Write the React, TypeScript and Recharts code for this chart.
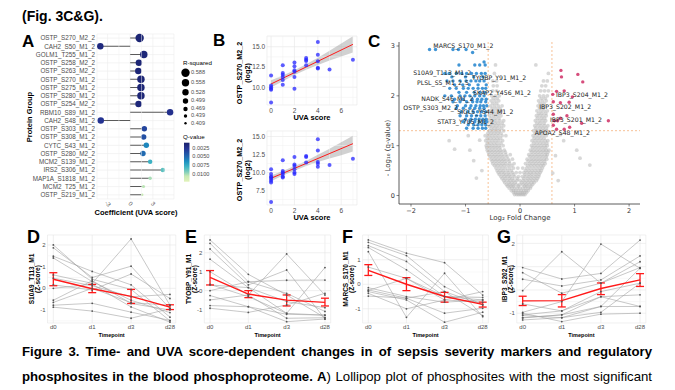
import React from 'react';
import {
  ComposedChart, Bar, XAxis, YAxis, CartesianGrid, Scatter, ScatterChart,
  Line, LineChart, Area, ReferenceLine, ErrorBar,
} from 'recharts';

const SANS = '"Liberation Sans", Arial, sans-serif';
const DJ = '"DejaVu Sans", sans-serif';

// ---------------- Panel A (lollipop) ----------------
const lolliNames = ['OSTP_S270_M2_2','CAH2_S50_M1_2','GOLM1_T255_M1_2','OSTP_S258_M2_2','OSTP_S263_M2_2','OSTP_S270_M1_2','OSTP_S275_M1_2','OSTP_S280_M1_2','OSTP_S254_M2_2','RBM10_S89_M1_2','CAH2_S48_M1_2','OSTP_S303_M1_2','OSTP_S308_M1_2','CYTC_S43_M1_2','OSTP_S280_M2_2','MCM2_S139_M1_2','IRS2_S306_M1_2','MAP1A_S1818_M1_2','MCM2_T25_M1_2','OSTP_S219_M1_2'];
const lolliCoef = [1.25,-3.96,1.8,1.15,1.07,1.42,1.42,1.42,1.1,5.28,-3.9,1.87,1.78,2.13,1.69,2.64,4.32,2.64,1.76,1.59];
const lolliRsq = [0.588,0.53,0.56,0.53,0.53,0.56,0.56,0.56,0.53,0.53,0.53,0.5,0.5,0.5,0.5,0.47,0.47,0.44,0.43,0.41];
const lolliQ = [0.0012,0.0016,0.0014,0.0013,0.0013,0.0013,0.0013,0.0013,0.0014,0.0022,0.0024,0.0032,0.0036,0.0057,0.0047,0.0073,0.0081,0.0095,0.0098,0.0100];
const rsqLegend = [0.588,0.558,0.528,0.499,0.469,0.439,0.409];
const qLegend = ['0.0025','0.0050','0.0075','0.0100'];

const qStops: [number, string][] = [[0.0009,'#1a216c'],[0.0025,'#253494'],[0.0040,'#2259a8'],[0.0050,'#2171b5'],[0.0060,'#1d91c0'],[0.0075,'#41b6c4'],[0.0088,'#7fcdbb'],[0.0100,'#c7e9b4'],[0.0115,'#e2f3ba']];
const hex = (h: string) => [1,3,5].map(i => parseInt(h.slice(i,i+2),16));
const qColor = (q: number) => {
  if (q <= qStops[0][0]) return qStops[0][1];
  for (let i = 1; i < qStops.length; i++) {
    if (q <= qStops[i][0]) {
      const [q0,c0] = qStops[i-1]; const [q1,c1] = qStops[i];
      const t = (q-q0)/(q1-q0); const a = hex(c0), b = hex(c1);
      return `rgb(${a.map((v,k)=>Math.round(v+(b[k]-v)*t)).join(',')})`;
    }
  }
  return qStops[qStops.length-1][1];
};
const rsqRadius = (r: number) => 1.2 + (r - 0.409) / 0.179 * 3.0;

const lolliData = lolliNames.map((n,i)=>({ name:n, coef:lolliCoef[i], rsq:lolliRsq[i], q:lolliQ[i] }));

const LolliShape = (p: any) => {
  const { x, y, width, height, payload } = p;
  const l = Math.min(x, x + width), r = Math.max(x, x + width);
  const cy = y + height / 2;
  const base = payload.coef >= 0 ? l : r;
  const tip = payload.coef >= 0 ? r : l;
  return (
    <g>
      <line x1={base} y1={cy} x2={tip} y2={cy} stroke="#5a5a5a" strokeWidth={1} />
      <circle cx={tip} cy={cy} r={rsqRadius(payload.rsq)} fill={qColor(payload.q)} />
    </g>
  );
};
const RotTick = (p: any) => (
  <text x={p.x} y={p.y + 4} transform={`rotate(45 ${p.x} ${p.y + 4})`} textAnchor="middle" dominantBaseline="middle" fontSize={6} fill="#4d4d4d" fontFamily={SANS}>{p.payload.value}</text>
);

// ---------------- Panel B (regressions) ----------------
const b1X = [0,0,0,0,0,0,1,1,1,1,1,1,2,2,2,2,2,2,3,3,3,3,4,4,4,4,4,5,7];
const b1Y = [11.46,10.2,10.0,9.8,9.67,8.1,12.7,11.75,11.55,11.25,10.9,10.3,13.05,12.6,12.1,11.9,11.25,9.8,13.6,13.4,13.25,12.7,15.6,14.0,13.2,12.4,12.3,12.2,13.4];
const b1FitX = [0,7];
const b1Fit = [10.4,15.3];
const bBandX = [0,1,2,3,4,5,6,7];
const b1Lo = [9.95,10.75,11.5,12.15,12.75,13.3,13.8,14.3];
const b1Hi = [10.85,11.45,12.1,12.85,13.65,14.5,15.4,16.3];

const b2X = [0,0,0,0,0,0,0,0,1,1,1,1,1,1,2,2,2,2,2,2,3,3,3,4,4,4,4,4,5,7];
const b2Y = [10.46,9.8,9.45,9.3,9.1,8.87,8.6,5.9,11.7,10.2,10.0,9.8,9.45,9.3,12.15,11.1,10.9,10.45,10.0,9.8,12.3,12.15,11.4,14.6,13.05,11.45,11.2,10.8,11.05,11.9];
const b2FitX = [0,7];
const b2Fit = [9.2,14.0];
const b2Lo = [8.8,9.6,10.25,10.9,11.45,11.95,12.4,12.9];
const b2Hi = [9.6,10.2,10.9,11.6,12.45,13.3,14.2,15.1];

// ---------------- Panel C (volcano) ----------------
const volGreyRows: [number, number[]][] = [
  [0.02, [-0.1,-0.06,-0.03,0,0.03,0.06,0.09]],
  [0.06, [-0.12,-0.08,-0.04,0.01,0.04,0.08,0.12]],
  [0.1, [-0.16,-0.12,-0.08,-0.03,0.02,0.07,0.11,0.15]],
  [0.15, [-0.2,-0.15,-0.1,-0.05,0,0.05,0.1,0.15,0.19]],
  [0.19, [-0.23,-0.17,-0.12,-0.03,0.08,0.13,0.2]],
  [0.22, [-0.25,-0.19,-0.13,-0.07,-0.01,0.05,0.11,0.17,0.23]],
  [0.26, [-0.28,-0.21,-0.15,-0.09,0.03,0.09,0.15,0.21,0.26]],
  [0.3, [-0.3,-0.24,-0.18,-0.12,-0.06,0,0.06,0.12,0.18,0.24,0.3]],
  [0.34, [-0.33,-0.27,-0.2,-0.14,-0.05,0.07,0.14,0.2,0.26,0.32]],
  [0.38, [-0.35,-0.29,-0.23,-0.17,-0.1,-0.03,0.04,0.1,0.16,0.22,0.28,0.34]],
  [0.42, [-0.38,-0.31,-0.25,-0.19,-0.12,0.09,0.16,0.22,0.29,0.35]],
  [0.46, [-0.4,-0.34,-0.28,-0.21,-0.14,-0.07,0,0.07,0.13,0.19,0.25,0.31,0.37]],
  [0.5, [-0.42,-0.36,-0.3,-0.23,-0.16,0.1,0.16,0.22,0.28,0.34,0.39]],
  [0.55, [-0.44,-0.38,-0.32,-0.26,-0.19,-0.12,-0.04,0.05,0.12,0.18,0.24,0.3,0.36,0.41]],
  [0.6, [-0.47,-0.41,-0.35,-0.29,-0.22,-0.15,0.14,0.2,0.26,0.32,0.38,0.43]],
  [0.64, [-0.5,-0.44,-0.38,-0.32,-0.26,-0.19,-0.11,0.1,0.17,0.23,0.29,0.35,0.41,0.46]],
  [0.69, [-0.51,-0.45,-0.39,-0.33,-0.27,-0.2,0.15,0.21,0.27,0.33,0.39,0.45]],
  [0.73, [-0.53,-0.47,-0.41,-0.35,-0.29,-0.22,-0.14,0.13,0.2,0.26,0.32,0.38,0.44,0.49]],
  [0.78, [-0.55,-0.49,-0.43,-0.37,-0.31,-0.24,0.18,0.24,0.3,0.36,0.42,0.48]],
  [0.82, [-0.57,-0.51,-0.45,-0.39,-0.33,-0.26,-0.18,0.16,0.22,0.28,0.34,0.4,0.46,0.5]],
  [0.87, [-0.58,-0.52,-0.46,-0.4,-0.34,-0.27,0.21,0.27,0.33,0.39,0.45,0.51]],
  [0.91, [-0.6,-0.54,-0.48,-0.42,-0.36,-0.29,0.19,0.25,0.31,0.37,0.43,0.48,0.53]],
  [0.96, [-0.61,-0.55,-0.49,-0.43,-0.37,0.23,0.29,0.35,0.41,0.47]],
  [1.0, [-0.62,-0.56,-0.5,-0.44,-0.38,-0.31,0.21,0.27,0.33,0.39,0.45,0.5]],
  [1.05, [-0.6,-0.54,-0.48,-0.42,-0.35,0.25,0.31,0.37,0.43,0.49]],
  [1.1, [-0.63,-0.57,-0.51,-0.45,-0.39,-0.32,0.22,0.28,0.34,0.4,0.46,0.51]],
  [1.15, [-0.6,-0.54,-0.48,-0.42,-0.36,0.26,0.32,0.38,0.44]],
  [1.2, [-0.64,-0.58,-0.52,-0.46,-0.4,-0.33,-0.26,0.24,0.3,0.36,0.42,0.48]],
  [1.25, [-0.59,-0.53,-0.47,-0.41,-0.35,0.28,0.34,0.4,0.46]],
  [1.3, [-0.56,-0.5,-0.44,-0.38,-0.3,0.25,0.31,0.37,0.43,0.49]],
  [1.35, [-0.53,-0.47,-0.41,-0.34,0.29,0.36,0.42,0.48]],
  [1.4, [-0.55,-0.49,-0.43,-0.37,-0.3,0.27,0.33,0.39,0.45,0.51]],
  [1.45, [-0.52,-0.46,-0.4,-0.33,0.31,0.37,0.44]],
  [1.5, [-0.56,-0.5,-0.44,-0.37,-0.3,0.28,0.35,0.41,0.47]],
  [1.55, [-0.53,-0.46,-0.39,0.32,0.39,0.45]],
  [1.6, [-0.56,-0.49,-0.42,-0.35,0.3,0.36,0.42,0.48]],
  [1.65, [-0.52,-0.45,-0.38,0.34,0.4,0.47]],
  [1.7, [-0.55,-0.48,-0.41,-0.34,0.31,0.38,0.44,0.5]],
  [1.75, [-0.51,-0.44,-0.37,0.36,0.42]],
  [1.8, [-0.54,-0.47,-0.4,-0.33,0.33,0.39,0.46]],
  [1.85, [-0.5,-0.43,0.37,0.44]],
  [1.9, [-0.53,-0.46,-0.39,0.34,0.41,0.48]],
  [1.95, [-0.49,-0.42,0.39,0.46]],
  [2.0, [-0.52,-0.45,-0.38,0.36,0.43,0.5]],
  [2.1, [-0.5,-0.43,0.38,0.45,0.52]],
  [2.2, [-0.49,-0.42,0.4,0.47]],
  [2.3, [-0.5,-0.43,0.43,0.5]],
  [2.45, [-0.47,0.52]],
  [2.62, [-0.45,0.29]],
];
const volGreyOutX = [-1.2,-0.92,1.28,1.04,0.74,-0.74,-0.85,0.65,0.8,-0.7,0.6,1.1,-1.3,-0.95,0.7,-0.8];
const volGreyOutY = [0.93,0.91,0.61,0.91,1.22,1.11,0.7,0.8,1.1,0.5,0.45,0.75,1.1,1.2,0.3,0.35];
const volBlueRows: [number, number[]][] = [
  [2.93, [-1.66,-1.55,-1.23,-1.13,-0.99]],
  [2.87, [-0.87]],
  [2.68, [-0.66]],
  [2.62, [-1.12,-0.83,-0.74,-0.64]],
  [2.45, [-1.38,-1.3,-1.17,-1.07,-0.98,-0.89,-0.8,-0.71,-0.64]],
  [2.38, [-1.25,-1.0,-0.85,-0.68]],
  [2.3, [-1.34,-1.23,-1.1,-0.99,-0.9,-0.81,-0.74,-0.66]],
  [2.22, [-1.2,-1.05,-0.93,-0.77,-0.62]],
  [2.15, [-1.29,-1.17,-1.04,-0.95,-0.86,-0.77,-0.69,-0.63]],
  [2.07, [-1.12,-0.98,-0.84,-0.73,-0.65]],
  [2.0, [-1.38,-1.26,-1.1,-1.01,-0.92,-0.83,-0.74,-0.66]],
  [1.93, [-1.2,-1.05,-0.88,-0.78,-0.7,-0.62]],
  [1.88, [-1.23,-1.1,-0.98,-0.87,-0.79,-0.72,-0.63]],
  [1.8, [-1.15,-1.0,-0.9,-0.81,-0.73,-0.67,-0.61]],
  [1.75, [-1.17,-1.04,-0.92,-0.83,-0.74,-0.66]],
  [1.68, [-1.08,-0.96,-0.86,-0.78,-0.7,-0.63]],
  [1.6, [-1.1,-0.98,-0.89,-0.8,-0.72,-0.64]],
  [1.53, [-1.0,-0.9,-0.82,-0.75,-0.68,-0.62]],
  [1.48, [-1.04,-0.92,-0.83,-0.75,-0.67,-0.61]],
  [1.42, [-0.95,-0.85,-0.77,-0.7,-0.63]],
  [1.35, [-0.98,-0.86,-0.77,-0.69,-0.63]],
];
const volRedX = [0.75,0.76,1.06,1.15,0.67,0.6,0.81,0.96,0.61,0.74,0.9,0.61,0.86,0.74,0.63,0.69,1.62,1.13,0.91,0.81,0.67,0.61];
const volRedY = [2.51,2.38,2.43,2.28,2.09,2.03,2.1,1.98,1.88,1.86,1.87,1.63,1.6,1.55,1.5,1.5,1.5,1.45,1.37,1.33,1.33,1.41];
const volLabels = ['MARCS_S170_M1_2','S10A9_T113_M1_2','TYOBP_Y91_M1_2','PLSL_S5_M1_2_5','SKAP2_Y456_M1_2','NADK_S46_M1_2','OSTP_S303_M2_2','SIGL5_Y544_M1_2','STAT3_Y705_M1_2','IBP3_S204_M1_2','IBP3_S202_M1_2','IBP3_S201_M1_2','APOA2_S48_M1_2'];
const volLabelX = [-1.59,-1.96,-0.88,-1.89,-0.86,-1.81,-2.14,-1.15,-1.52,0.66,0.35,0.55,0.27];
const volLabelY = [3.01,2.47,2.37,2.27,2.07,1.93,1.75,1.67,1.47,2.03,1.77,1.51,1.25];

const flatRows = (rows: [number, number[]][]) => rows.flatMap(([y, xs]) => xs.map(x => ({ x, y })));
const greyPts = [...flatRows(volGreyRows), ...volGreyOutX.map((x,i)=>({ x, y: volGreyOutY[i] }))];
const bluePts = flatRows(volBlueRows);
const redPts = volRedX.map((x,i)=>({ x, y: volRedY[i] }));
const labelPts = volLabels.map((l,i)=>({ x: volLabelX[i], y: volLabelY[i], label: l }));

// ---------------- Panels D-G (time courses) ----------------
const TIME = ['d0','d1','d3','d28'];
const dLines = [[2.0,0.42,-0.05,-1.5],[1.87,0.5,1.02,-0.94],[1.48,0.78,0.16,-1.33],[1.4,0.31,-0.55,-1.12],[0.62,0.23,2.28,-0.78],[0.47,0.12,-0.39,-0.28],[0.16,-0.08,0.66,-0.47],[0.0,0.19,-0.86,-1.56],[-0.65,0.0,-0.66,-0.78],[-0.78,-0.69,-1.1,-1.48],[-0.87,-1.05,-1.38,-0.94],[-0.55,0.35,-0.7,-1.0]];
const dMean = [0.42,-0.02,-0.37,-0.87]; const dLo = [0.12,-0.2,-0.7,-0.98]; const dHi = [0.72,0.18,-0.05,-0.76];
const eLines = [[2.68,0.86,-0.23,-1.43],[2.5,0.47,-0.14,-1.1],[2.2,0.3,1.09,-1.5],[1.66,0.16,-0.58,-0.9],[1.0,-0.23,1.94,-0.23],[0.33,-0.32,-1.2,1.22],[0.0,0.47,0.55,0.56],[-0.26,-0.85,-1.25,-1.29],[-0.49,-0.23,-1.46,-1.43],[-0.79,-0.85,-1.64,-1.5],[-0.93,-1.15,-0.76,-0.14],[0.3,0.16,-1.2,-1.3]];
const eMean = [0.7,-0.18,-0.5,-0.62]; const eLo = [0.3,-0.37,-0.81,-0.81]; const eHi = [1.06,0.0,-0.23,-0.4];
const fLines = [[1.81,1.27,0.88,-0.44],[1.71,1.17,-0.1,-0.84],[1.58,0.93,-0.3,-1.28],[1.5,0.59,-0.5,-0.54],[1.33,-1.35,0.45,-1.32],[0.7,0.24,-0.64,-0.3],[-0.14,-0.5,-0.73,-0.64],[-0.23,-0.57,-1.18,-0.98],[-0.3,-0.64,-1.55,-1.14],[-0.37,-1.0,-0.64,-0.73],[-0.48,-0.57,-0.3,-0.84],[-0.25,0.24,-0.5,-0.64]];
const fMean = [0.57,0.0,-0.5,-0.82]; const fLo = [0.36,-0.26,-0.73,-0.93]; const fHi = [0.8,0.27,-0.33,-0.73];
const gLines = [[0.96,0.47,0.71,2.14],[0.74,-0.14,0.29,0.96],[0.46,0.17,0.43,1.46],[-0.03,1.64,0.29,1.21],[-0.96,-0.5,1.97,0.93],[-1.07,-0.9,-0.07,0.29],[-1.19,-1.07,-0.29,-0.21],[-1.29,-1.19,-0.71,-0.71],[-1.0,-1.36,-1.04,-1.0],[-1.1,-1.19,-0.96,0.29],[-0.6,-0.9,-0.29,-0.71],[-1.2,-1.07,-0.71,0.93]];
const gMean = [-0.47,-0.46,0.06,0.43]; const gLo = [-0.67,-0.73,-0.2,0.15]; const gHi = [-0.27,-0.2,0.3,0.7];

const tickStyle = { fontSize: 6, fill: '#4d4d4d', fontFamily: SANS };

const Txt = ({ x, y, children, size = 7, bold = false, color = '#000', family = SANS, rotate = false, left = false }: any) => (
  <div style={{ position: 'absolute', left: x, top: y, transform: `translate(${left ? '0' : '-50%'},-50%)${rotate ? ' rotate(-90deg)' : ''}`, fontSize: size, fontWeight: bold ? 700 : 400, color, fontFamily: family, whiteSpace: 'nowrap', lineHeight: 1 }}>{children}</div>
);

function BChart({ top, height, domain, ticks, minorY, xs, ys, fitX, fit, lo, hi }: any) {
  const pts = xs.map((x: number, i: number) => ({ x, y: ys[i] }));
  const fitData = fitX.map((x: number, i: number) => ({ x, fit: fit[i] }));
  const band = bBandX.map((x, i) => ({ x, band: [lo[i], hi[i]] }));
  return (
    <div style={{ position: 'absolute', left: 245, top }}>
      <ComposedChart width={115} height={height} margin={{ top: 6, right: 3, left: 0, bottom: 0 }}>
        <CartesianGrid stroke="#e6e6e6" strokeWidth={0.6} />
        {[1, 3, 5, 7].map(v => <ReferenceLine key={'mx' + v} x={v} stroke="#f1f1f1" strokeWidth={0.5} />)}
        {minorY.map((v: number) => <ReferenceLine key={'my' + v} y={v} stroke="#f1f1f1" strokeWidth={0.5} />)}
        <XAxis type="number" dataKey="x" domain={[-0.35, 7.35]} ticks={[0, 2, 4, 6]} height={15} tickSize={0} tickMargin={3} axisLine={false} tickLine={false} tick={{ ...tickStyle, fontSize: 6.5 }} allowDataOverflow />
        <YAxis type="number" dataKey="y" domain={domain} ticks={ticks} width={22} tickSize={0} tickMargin={2} axisLine={false} tickLine={false} tick={{ ...tickStyle, fontSize: 6.5 }} tickFormatter={(v: number) => v.toFixed(1)} allowDataOverflow />
        <Area data={band} dataKey="band" type="linear" fill="#9a9a9a" fillOpacity={0.45} stroke="none" isAnimationActive={false} />
        <Scatter data={pts} dataKey="y" isAnimationActive={false} shape={(p: any) => <circle cx={p.cx} cy={p.cy} r={2} fill="#2525ff" fillOpacity={0.75} />} />
        <Line data={fitData} dataKey="fit" type="linear" stroke="#ff1a1a" strokeWidth={1} dot={false} isAnimationActive={false} />
      </ComposedChart>
    </div>
  );
}

function TimeChart({ left, width, yW, mr, domain, ticks, minor, lines, mean, lo, hi }: any) {
  const rows = TIME.map((t, i) => {
    const r: any = { x: i };
    lines.forEach((l: number[], j: number) => { r['s' + j] = l[i]; });
    r.mean = mean[i];
    r.err = [mean[i] - lo[i], hi[i] - mean[i]];
    return r;
  });
  return (
    <div style={{ position: 'absolute', left, top: 229 }}>
      <LineChart width={width} height={110} data={rows} margin={{ top: 6, right: mr, left: 0, bottom: 0 }}>
        <CartesianGrid stroke="#e6e6e6" strokeWidth={0.6} />
        {minor.map((v: number) => <ReferenceLine key={v} y={v} stroke="#f1f1f1" strokeWidth={0.5} />)}
        <XAxis type="number" dataKey="x" domain={[-0.15, 3.15]} ticks={[0, 1, 2, 3]} tickFormatter={(v: number) => TIME[v]} height={16} tickSize={0} tickMargin={2} axisLine={false} tickLine={false} tick={tickStyle} allowDataOverflow />
        <YAxis type="number" domain={domain} ticks={ticks} width={yW} tickSize={0} tickMargin={2} axisLine={false} tickLine={false} tick={tickStyle} allowDataOverflow />
        {lines.map((_: any, j: number) => (
          <Line key={j} dataKey={'s' + j} type="linear" stroke="#a3a3a3" strokeWidth={0.6} dot={{ r: 0.9, fill: '#555', stroke: 'none' }} isAnimationActive={false} />
        ))}
        <Line dataKey="mean" type="linear" stroke="#ff1a1a" strokeWidth={1.4} dot={false} isAnimationActive={false}>
          <ErrorBar dataKey="err" width={4} stroke="#ff1a1a" strokeWidth={1.3} direction="y" />
        </Line>
      </LineChart>
    </div>
  );
}

export default function App() {
  const gradStops = [0.0009, 0.0025, 0.004, 0.005, 0.006, 0.0075, 0.0088, 0.01, 0.0115];
  return (
    <div style={{ position: 'absolute', left: 0, top: 0, width: 675, height: 390, background: '#fff', overflow: 'hidden', fontFamily: SANS }}>
      <div style={{ position: 'absolute', left: 22, top: 8, fontSize: 14, fontWeight: 700, lineHeight: '16px', fontFamily: SANS }}>(Fig. 3C&amp;G).</div>

      {/* Panel letters */}
      <Txt x={22} y={41} size={17} bold left>A</Txt>
      <Txt x={213} y={40} size={17} bold left>B</Txt>
      <Txt x={368} y={41} size={17} bold left>C</Txt>
      <Txt x={27} y={237} size={18} bold left>D</Txt>
      <Txt x={185} y={237} size={18} bold left>E</Txt>
      <Txt x={342} y={237} size={18} bold left>F</Txt>
      <Txt x={497} y={237} size={18} bold left>G</Txt>

      {/* Panel A */}
      <div style={{ position: 'absolute', left: 0, top: 0 }}>
        <ComposedChart layout="vertical" width={180} height={222} data={lolliData} margin={{ top: 34, right: 6, left: 0, bottom: 0 }}>
          <CartesianGrid stroke="#ececec" strokeWidth={0.6} />
          {[-1.5, 1.5, 4.5].map(v => <ReferenceLine key={v} x={v} stroke="#f3f3f3" strokeWidth={0.5} />)}
          <XAxis type="number" domain={[-4.4, 5.8]} ticks={[-3, 0, 3]} height={23} tickSize={0} tickMargin={1} axisLine={false} tickLine={false} tick={<RotTick />} allowDataOverflow />
          <YAxis type="category" dataKey="name" width={97} interval={0} tickSize={0} tickMargin={2} axisLine={false} tickLine={false} tick={{ fontSize: 6.3, fill: '#4d4d4d', fontFamily: SANS }} />
          <Bar dataKey="coef" barSize={8} shape={LolliShape} isAnimationActive={false} />
        </ComposedChart>
      </div>
      <Txt x={30} y={117} size={7.5} bold rotate>Protein Group</Txt>
      <Txt x={136} y={213} size={7.5} bold>Coefficient (UVA score)</Txt>
      <svg style={{ position: 'absolute', left: 178, top: 55 }} width={45} height={135}>
        <defs>
          <linearGradient id="qgrad" x1="0" y1="0" x2="0" y2="1">
            {gradStops.map((q, i) => <stop key={i} offset={(q - 0.0009) / (0.0115 - 0.0009)} stopColor={qColor(q)} />)}
          </linearGradient>
        </defs>
        <text x={5} y={8} fontSize={6.2} fontFamily={SANS} fill="#000" dominantBaseline="middle">R-squared</text>
        {rsqLegend.map((r, i) => {
          const ys = [17.7, 27.7, 37.3, 46, 54, 61, 68.3];
          return (
            <g key={r}>
              <circle cx={7.5} cy={ys[i]} r={rsqRadius(r)} fill="#000" />
              <text x={13} y={ys[i]} fontSize={5.6} fontFamily={SANS} fill="#4d4d4d" dominantBaseline="middle">{r.toFixed(3)}</text>
            </g>
          );
        })}
        <text x={5} y={82.3} fontSize={6.2} fontFamily={SANS} fill="#000" dominantBaseline="middle">Q-value</text>
        <rect x={6} y={87.7} width={5.5} height={39} fill="url(#qgrad)" />
        {qLegend.map((q, i) => {
          const ys = [93.3, 101.7, 111, 119.5];
          return <text key={q} x={14.3} y={ys[i]} fontSize={5.6} fontFamily={SANS} fill="#4d4d4d" dominantBaseline="middle">{q}</text>;
        })}
      </svg>

      {/* Panel B */}
      <BChart top={30} height={90} domain={[7.8, 16.33]} ticks={[10, 12.5, 15]} minorY={[8.75, 11.25, 13.75, 16.25]} xs={b1X} ys={b1Y} fitX={b1FitX} fit={b1Fit} lo={b1Lo} hi={b1Hi} />
      <BChart top={125} height={95} domain={[5.49, 15.76]} ticks={[7.5, 10, 12.5, 15]} minorY={[6.25, 8.75, 11.25, 13.75]} xs={b2X} ys={b2Y} fitX={b2FitX} fit={b2Fit} lo={b2Lo} hi={b2Hi} />
      <Txt x={240} y={73} size={7.2} bold rotate>OSTP_S270_M2_2</Txt>
      <Txt x={247.5} y={73} size={7.2} bold rotate>(log2)</Txt>
      <Txt x={312} y={118} size={7.5} bold>UVA score</Txt>
      <Txt x={240} y={170} size={7.2} bold rotate>OSTP_S270_M2_2</Txt>
      <Txt x={247.5} y={170} size={7.2} bold rotate>(log2)</Txt>
      <Txt x={312} y={218} size={7.5} bold>UVA score</Txt>

      {/* Panel C */}
      <div style={{ position: 'absolute', left: 375, top: 36 }}>
        <ScatterChart width={270} height={185} margin={{ top: 6, right: 5, left: 0, bottom: 0 }}>
          <XAxis type="number" dataKey="x" domain={[-2.22, 2.2]} ticks={[-2, -1, 0, 1, 2]} tickFormatter={(v: number) => (v < 0 ? '\u2212' + Math.abs(v) : String(v))} height={17} tickSize={2.5} tickMargin={1.5} stroke="#333" axisLine={{ stroke: '#333', strokeWidth: 0.8 }} tickLine={{ stroke: '#333', strokeWidth: 0.6 }} tick={{ fontSize: 6.5, fill: '#333', fontFamily: DJ }} allowDataOverflow />
          <YAxis type="number" dataKey="y" domain={[-0.17, 3.08]} ticks={[0, 1, 2, 3]} width={24} tickSize={2.5} tickMargin={1.5} stroke="#333" axisLine={{ stroke: '#333', strokeWidth: 0.8 }} tickLine={{ stroke: '#333', strokeWidth: 0.6 }} tick={{ fontSize: 6.5, fill: '#333', fontFamily: DJ }} allowDataOverflow />
          <Scatter data={greyPts} isAnimationActive={false} shape={(p: any) => <circle cx={p.cx} cy={p.cy} r={1.9} fill="#b8b8b8" fillOpacity={0.55} />} />
          <Scatter data={bluePts} isAnimationActive={false} shape={(p: any) => <circle cx={p.cx} cy={p.cy} r={1.7} fill="#2c8ad0" fillOpacity={0.9} />} />
          <Scatter data={redPts} isAnimationActive={false} shape={(p: any) => <circle cx={p.cx} cy={p.cy} r={1.7} fill="#d13a6e" fillOpacity={0.9} />} />
          <ReferenceLine x={-0.585} stroke="#f3a86a" strokeWidth={0.7} strokeDasharray="2 2" />
          <ReferenceLine x={0.585} stroke="#f3a86a" strokeWidth={0.7} strokeDasharray="2 2" />
          <ReferenceLine y={1.301} stroke="#f3a86a" strokeWidth={0.7} strokeDasharray="2 2" />
          <Scatter data={labelPts} isAnimationActive={false} shape={(p: any) => <text x={p.cx} y={p.cy} dy="0.35em" fontSize={6.2} fontFamily={DJ} fill="#222">{p.payload.label}</text>} />
        </ScatterChart>
      </div>
      <Txt x={388} y={148} size={7} family={DJ} color="#333" rotate>- Log₁₀ (q-value)</Txt>
      <Txt x={520} y={218} size={7} family={DJ} color="#333">Log₂ Fold Change</Txt>

      {/* Panels D-G */}
      <TimeChart left={20} width={160} yW={27.5} mr={4.2} domain={[-1.6, 2.46]} ticks={[-1, 0, 1, 2]} minor={[-1.5, -0.5, 0.5, 1.5]} lines={dLines} mean={dMean} lo={dLo} hi={dHi} />
      <TimeChart left={180} width={155} yW={24.3} mr={4.3} domain={[-1.71, 2.94]} ticks={[-1, 0, 1, 2]} minor={[-1.5, -0.5, 0.5, 1.5, 2.5]} lines={eLines} mean={eMean} lo={eLo} hi={eHi} />
      <TimeChart left={338} width={155} yW={24.6} mr={4.6} domain={[-1.58, 2.01]} ticks={[-1, 0, 1]} minor={[-1.5, -0.5, 0.5, 1.5]} lines={fLines} mean={fMean} lo={fLo} hi={fHi} />
      <TimeChart left={492} width={158} yW={24.8} mr={4.1} domain={[-1.42, 2.36]} ticks={[-1, 0, 1, 2]} minor={[-0.5, 0.5, 1.5]} lines={gLines} mean={gMean} lo={gLo} hi={gHi} />
      <Txt x={31.5} y={279} size={6.5} bold rotate>S10A9_T113_M1</Txt>
      <Txt x={38.3} y={279} size={6.5} bold rotate>(Z-score)</Txt>
      <Txt x={188.5} y={279} size={6.5} bold rotate>TYOBP_Y91_M1</Txt>
      <Txt x={195.3} y={279} size={6.5} bold rotate>(Z-score)</Txt>
      <Txt x={345.5} y={279} size={6.5} bold rotate>MARCS_S170_M1</Txt>
      <Txt x={352.3} y={279} size={6.5} bold rotate>(Z-score)</Txt>
      <Txt x={504.5} y={279} size={6.5} bold rotate>IBP3_S202_M1</Txt>
      <Txt x={511.3} y={279} size={6.5} bold rotate>(Z-score)</Txt>
      <Txt x={111.6} y={335.5} size={5.5} bold>Timepoint</Txt>
      <Txt x={267.5} y={335.5} size={5.5} bold>Timepoint</Txt>
      <Txt x={425.5} y={335.5} size={5.5} bold>Timepoint</Txt>
      <Txt x={581.4} y={335.5} size={5.5} bold>Timepoint</Txt>

      {/* Caption */}
      <div style={{ position: 'absolute', left: 22, top: 343, width: 630, fontSize: 13.2, fontWeight: 700, lineHeight: '17px', textAlign: 'justify', textAlignLast: 'justify', fontFamily: SANS, color: '#000' }}>
        Figure 3. Time- and UVA score-dependent changes in of sepsis severity markers and regulatory
      </div>
      <div style={{ position: 'absolute', left: 22, top: 368, width: 630, fontSize: 13.2, lineHeight: '17px', textAlign: 'justify', textAlignLast: 'justify', fontFamily: SANS, color: '#000' }}>
        <b>phosphosites in the blood phosphoproteome. A</b>) Lollipop plot of phosphosites with the most significant
      </div>
    </div>
  );
}
